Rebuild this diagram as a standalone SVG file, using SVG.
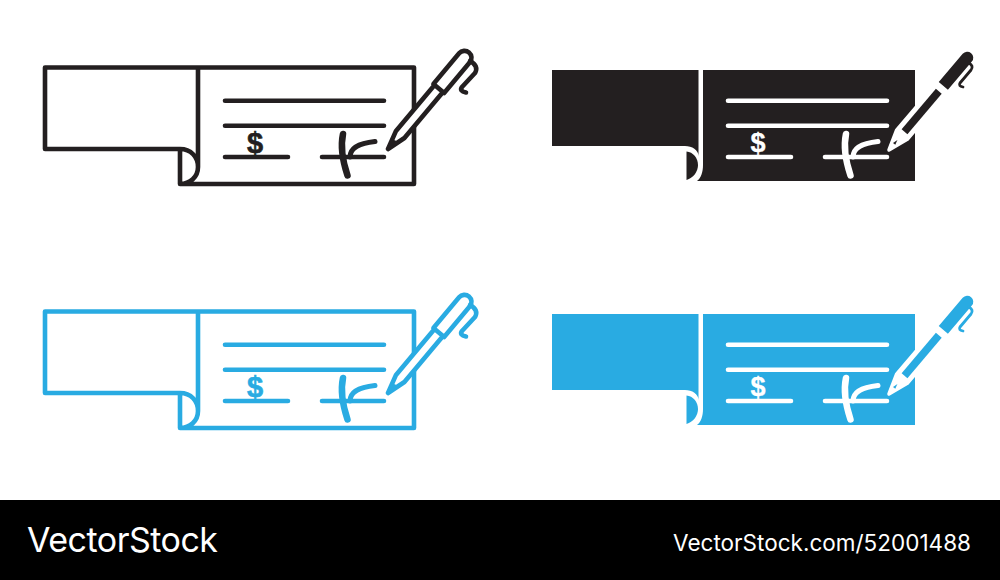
<svg xmlns="http://www.w3.org/2000/svg" width="1000" height="580" viewBox="0 0 1000 580">
<style>
.ln{fill:none;stroke:currentColor;stroke-width:4.6;stroke-linecap:round;stroke-linejoin:round}
.wl{fill:none;stroke:#fff;stroke-width:4.6;stroke-linecap:round;stroke-linejoin:round}
.dl{font-family:"Liberation Sans",Arial,sans-serif;font-weight:bold;text-anchor:middle}
.ft{fill:#fff;font-family:Inter,"Liberation Sans",sans-serif}
</style>
<defs>
<g id="outline">
<path class="ln" d="M45 67.500H414V184H180V149M180 149H45V67.500M198 67.500V167C198 177 190 184 180 184M180 149C191 149 198 157 198 167"/>
<path class="ln" d="M225 100.700H384M225 125.700H384M225 157H288M322 157H384"/>
<path class="ln" style="stroke-width:6.500" d="M343 134C340 148 344 165 347.500 175.500"/>
<path class="ln" style="stroke-width:5" d="M350 157C350 147 360 143 375 141.500"/>
<text class="dl" x="255" y="153" font-size="29" fill="currentColor" stroke="currentColor" stroke-width=".6">$</text>
<g transform="translate(388 149) rotate(-50)">
<path d="M-1 0L18 -4H78V4H18Z" fill="#fff"/>
<path class="ln" d="M0 0L19 -5.500H79M0 0L19 5.500H79M79 -7H119A7 7 0 0 1 119 7H79ZM9 0V.5"/>
</g>
<path class="ln" d="M470 61Q479 66 475 73L462 87Q459 91 466 92.500"/>
</g>
<g id="solid">
<path fill="currentColor" d="M552 70H698.500V156C698.500 150 692 146 685 146H552ZM703 70H915V181H697C701 178 703 172 703 165Z"/>
<path fill="currentColor" d="M686.500 151.500C693 152 698 158 698 165C698 172 693 178 686.500 180Z"/>
<path class="wl" d="M728 100.700H887M728 125.700H887M728 157H791M825 157H887"/>
<path class="wl" style="stroke-width:6.500" d="M846 134C843 148 847 165 850.500 175.500"/>
<path class="wl" style="stroke-width:5" d="M853 157C853 147 863 143 878 141.500"/>
<text class="dl" x="758" y="152" fill="#fff" font-size="27" stroke="#fff" stroke-width=".3">$</text>
<g transform="translate(889 150) rotate(-49.700)">
<path d="M0 0L20 -7H72V7H20Z" fill="#fff" stroke="#fff" stroke-width="3.500" stroke-linejoin="round"/>
<path d="M24 -3.800H77V3.800H24Z" fill="currentColor"/>
<path d="M8 -1.500L13 0L8 1.500Z" fill="currentColor"/>
<path d="M84 -6H121A6 6 0 0 1 121 6H84Z" fill="currentColor"/>
</g>
<path fill="none" stroke="currentColor" stroke-width="2.800" stroke-linecap="round" stroke-linejoin="round" d="M969 63Q974 66 971 70L960 83Q958 86 963 87"/>
</g>
</defs>
<rect width="1000" height="580" fill="#fff"/>
<g id="icon-outline-black" color="#231f20"><use href="#outline"/></g>
<g id="icon-solid-black" color="#231f20"><use href="#solid"/></g>
<g id="icon-outline-blue" color="#29abe2"><use href="#outline" y="244"/></g>
<g id="icon-solid-blue" color="#29abe2"><use href="#solid" y="244"/></g>
<g id="footer">
<rect y="500" width="1000" height="80" fill="#000"/>
<text class="ft" x="27" y="551.500" font-size="34" textLength="191">VectorStock</text>
<text class="ft" x="673" y="550.500" font-size="22.500" textLength="298">VectorStock.com/52001488</text>
</g>
</svg>
